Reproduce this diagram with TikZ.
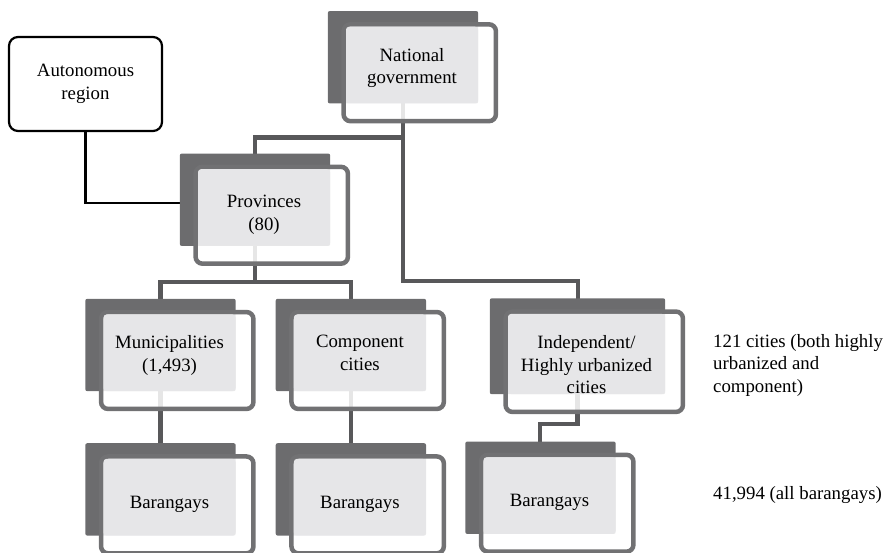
\documentclass[tikz,border=0pt]{standalone}
\usepackage{fontspec}
\setmainfont{Liberation Serif}
\usetikzlibrary{positioning}
\usetikzlibrary{calc}

\definecolor{blockdark}{HTML}{6C6C6E}
\definecolor{blockframe}{HTML}{717173}
\definecolor{blocklight}{HTML}{E6E6E8}
\definecolor{linkgray}{HTML}{58585A}

\pgfdeclarelayer{wires}
\pgfdeclarelayer{backing}
\pgfsetlayers{wires,backing,main}

\begin{document}
\begin{tikzpicture}[x=1pt,y=1pt,
      font=\fontsize{18.8}{22.6}\selectfont,
      govblock/.style={fill=blocklight,rounded corners=3pt,inner sep=0pt,
        minimum width=132pt,minimum height=76.5pt,align=center},
      barblock/.style={govblock,text height=26pt},
      autoblock/.style={draw,fill=white,line width=2.2pt,rounded corners=9pt,
        minimum width=153pt,minimum height=94pt,align=center},
      notetext/.style={inner sep=0pt,align=left},
      link/.style={draw=linkgray,line width=4.5pt},
      autolink/.style={draw=black,line width=2.4pt}]
  \useasboundingbox (0,0) rectangle (886,552);

  % Blocks
  \node[govblock,text height=41.4pt,text depth=4.1pt]
                                          (nat)   at (412,487)     {National\\government};
  \node[autoblock]                        (auto)  at (85.5,468)    {Autonomous\\region};
  \node[govblock,text height=49.5pt,text depth=4pt]
                                          (prov)  at (264,344.5)   {Provinces\\(80)};
  \node[govblock,text height=41.4pt,text depth=3.9pt]
                                          (muni)  at (169.5,199.25){Municipalities\\(1,493)};
  \node[govblock,right=58pt of muni]      (comp)                   {Component\\cities};
  \node[govblock,minimum width=157pt,minimum height=78pt,text height=80pt,text depth=0pt]
                                          (indep) at (586.5,198)   {Independent/\\Highly urbanized\\cities};
  \node[barblock,below=67.5pt of muni]    (bar1)                   {Barangays};
  \node[barblock,below=67.5pt of comp]    (bar2)                   {Barangays};
  \node[barblock]                         (bar3)  at (549.5,56.5)  {Barangays};

  % Notes
  \node[notetext,anchor=north west] (citynote) at (713,218) {121 cities (both highly\\urbanized and\\component)};
  \node[notetext,anchor=base west]  (baranote) at (713,53)  {41,994 (all barangays)};

  % Plates and frames
  \begin{pgfonlayer}{backing}
    \foreach \blk in {nat,prov,muni,comp,indep,bar1,bar2,bar3}{
      \fill[blockdark,rounded corners=2pt]
        ([xshift=-18pt,yshift=15.5pt]\blk.north west) rectangle (\blk.south east);
      \draw[blockframe,line width=4.5pt,fill=white,fill opacity=0.85,rounded corners=7pt]
        ([xshift=-2.25pt,yshift=2.25pt]\blk.north west) rectangle ([xshift=17.75pt,yshift=-17.75pt]\blk.south east);
    }
  \end{pgfonlayer}

  % Links
  \begin{pgfonlayer}{wires}
    \draw[link] ([xshift=-9pt]nat.south) -- ++(0,-34) -| ([xshift=-9pt]prov.north);
    \draw[link] ([xshift=-9pt]nat.south) |- ([xshift=-8.5pt,yshift=33pt]indep.north) -- ([xshift=-8.5pt]indep.north);
    \draw[link] ([xshift=-9pt]prov.south) -- ++(0,-36) coordinate (provjoin);
    \draw[link] ([xshift=-9pt]muni.north) |- (provjoin) -| ([xshift=-9pt]comp.north);
    \draw[link] ([xshift=-9pt]muni.south) -- ([xshift=-9pt]bar1.north);
    \draw[link] ([xshift=-9pt]comp.south) -- ([xshift=-9pt]bar2.north);
    \draw[link] ([xshift=-9pt]indep.south) -- ++(0,-30) -| ([xshift=-9.5pt]bar3.north);
    \draw[autolink] (auto.south) |- ([yshift=4.5pt]prov.west);
  \end{pgfonlayer}
\end{tikzpicture}
\end{document}
